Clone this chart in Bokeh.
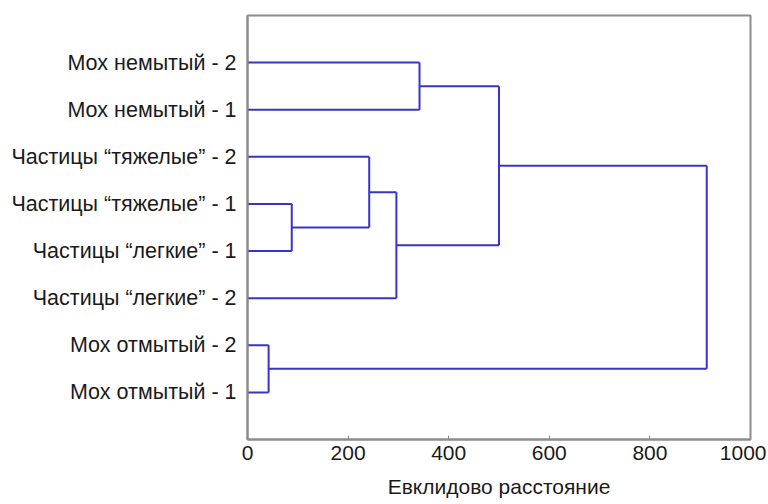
from bokeh.plotting import figure
from bokeh.models import FixedTicker, Range1d, ColumnDataSource
from bokeh.embed import file_html
from bokeh.resources import INLINE

# Leaves, listed bottom to top
leaf_labels = [
    "Мох отмытый - 1",
    "Мох отмытый - 2",
    "Частицы “легкие” - 2",
    "Частицы “легкие” - 1",
    "Частицы “тяжелые” - 1",
    "Частицы “тяжелые” - 2",
    "Мох немытый - 1",
    "Мох немытый - 2",
]
# Linkage: new node ids start at len(leaf_labels)
merge_left = [0, 3, 5, 2, 6, 12, 13]
merge_right = [1, 4, 9, 10, 7, 11, 8]
merge_height = [42, 88, 242, 296, 342, 500, 913]

x_ticks = [0, 200, 400, 600, 800, 1000]
x_title = "Евклидово расстояние"

n = len(leaf_labels)
ypos = {i: i + 1 for i in range(n)}
hgt = {i: 0.0 for i in range(n)}
x0s, y0s, x1s, y1s = [], [], [], []
for k, (a, b, h) in enumerate(zip(merge_left, merge_right, merge_height)):
    node = n + k
    for c in (a, b):
        x0s.append(hgt[c]); y0s.append(ypos[c]); x1s.append(h); y1s.append(ypos[c])
    x0s.append(h); y0s.append(ypos[a]); x1s.append(h); y1s.append(ypos[b])
    ypos[node] = (ypos[a] + ypos[b]) / 2
    hgt[node] = h

src = ColumnDataSource(dict(x0=x0s, y0=y0s, x1=x1s, y1=y1s))

FONT = "Liberation Sans"
p = figure(
    frame_width=503, frame_height=424,
    min_border_left=247, min_border_right=16, min_border_top=15, min_border_bottom=63,
    x_range=Range1d(0, 1000), y_range=Range1d(0, n + 1),
    output_backend="svg", toolbar_location=None,
)
p.segment("x0", "y0", "x1", "y1", source=src, line_color="#3535c8", line_width=2)

p.xgrid.visible = False
p.ygrid.visible = False
p.outline_line_color = "#8c8c8c"
p.outline_line_width = 2
p.outline_line_alpha = 1

p.xaxis.ticker = FixedTicker(ticks=x_ticks)
p.xaxis.axis_label = x_title
p.yaxis.ticker = FixedTicker(ticks=list(range(1, n + 1)))
p.yaxis.major_label_overrides = {i + 1: lab for i, lab in enumerate(leaf_labels)}

for ax in (p.xaxis[0], p.yaxis[0]):
    ax.axis_line_color = "#8c8c8c"
    ax.axis_line_width = 2
    ax.major_tick_line_color = "#8c8c8c"
    ax.major_tick_in = 4
    ax.major_tick_out = 0
    ax.minor_tick_line_color = None
    ax.major_label_text_font = FONT
    ax.major_label_text_color = "#1a1a1a"
    ax.axis_label_text_font = FONT
    ax.axis_label_text_font_style = "normal"
    ax.axis_label_text_color = "#1a1a1a"

p.yaxis.major_tick_line_color = None
p.yaxis.major_label_text_font_size = "21.5px"
p.yaxis.major_label_standoff = 11
p.xaxis.major_label_text_font_size = "21px"
p.xaxis.major_label_standoff = 6
p.xaxis.axis_label_text_font_size = "21px"
p.xaxis.axis_label_standoff = 12

open("out.html", "w").write(file_html(p, INLINE))
